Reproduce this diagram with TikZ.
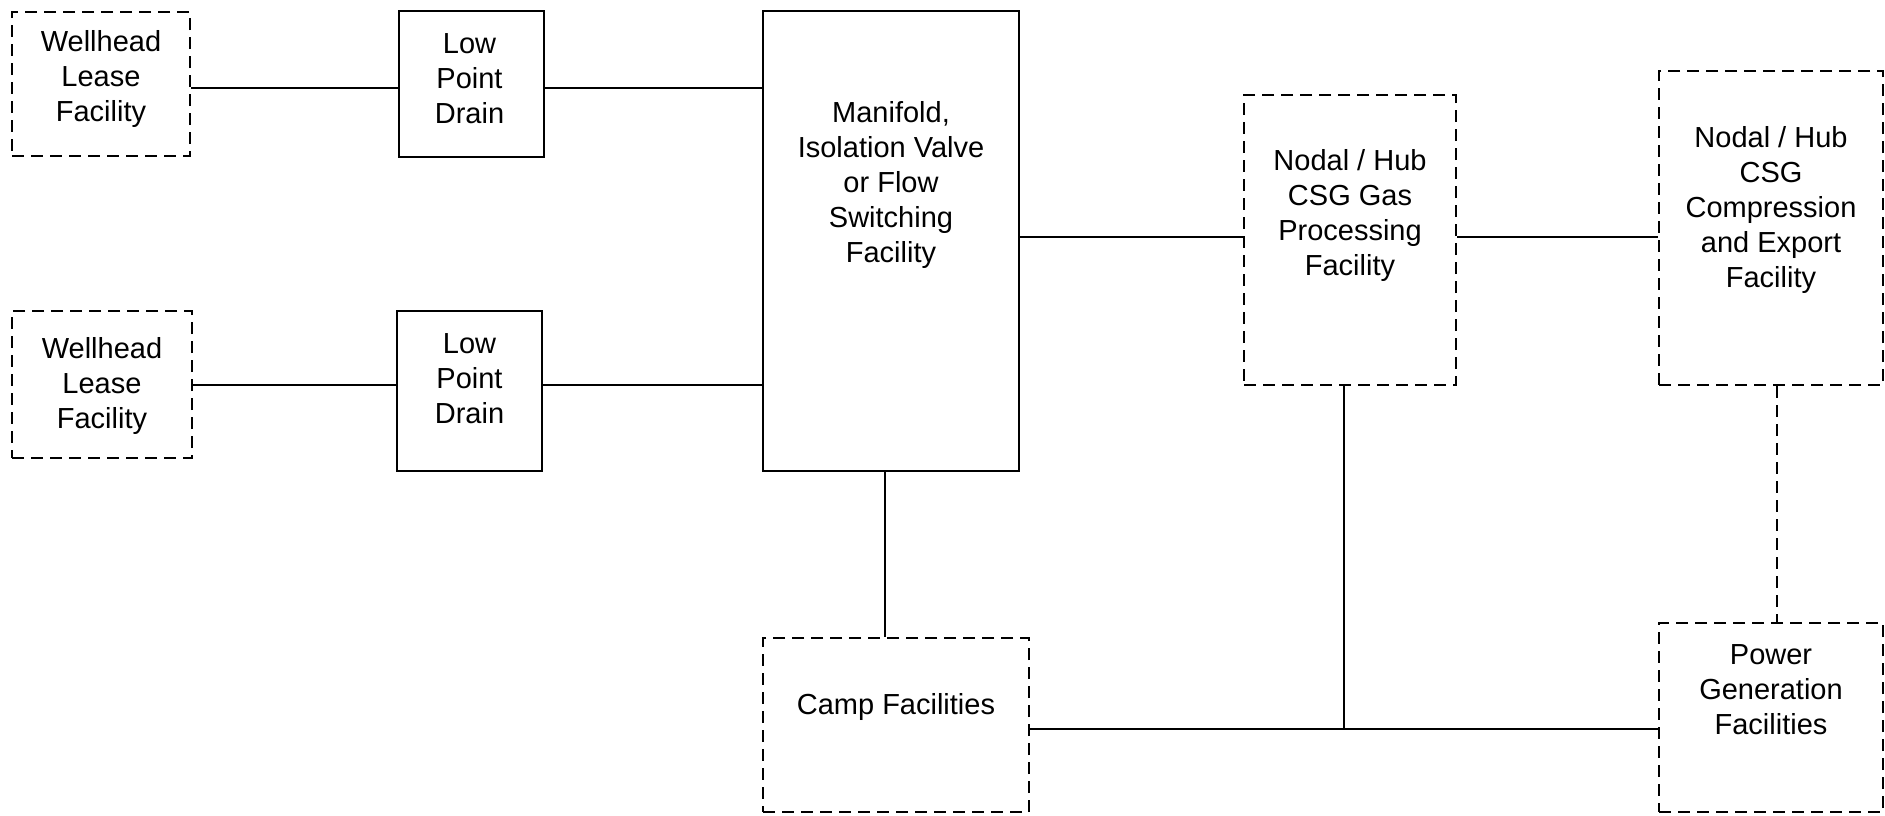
\documentclass[tikz,border=0pt]{standalone}
\usepackage{fontspec}
\setmainfont{Liberation Sans}
\usetikzlibrary{positioning}
\newlength{\px}
\setlength\px{0.5pt}

\begin{document}
\begin{tikzpicture}[
    x = \px, y = -\px, align = center,
    plant/.style = {
      rectangle, draw, line width = 2\px, inner sep = 0pt
    },
    offsite/.style = {
      plant, dash pattern = on 12\px off 7\px
    },
    caption/.style = {
      inner sep = 0pt, font = \fontsize{14.5}{17.5}\selectfont
    },
    pipe/.style = {
      line width = 2\px
    },
    link/.style = {
      pipe, dash pattern = on 12\px off 7\px
    },
    ]

    \useasboundingbox (0,0) rectangle (1885,815);

    % draw boxes of the wells and drains
    \node  [offsite, minimum width = 178\px, minimum height = 144\px]  (wh1)  at (101,84)  {};
    \node  [plant, minimum width = 145\px, minimum height = 146\px]  (lpd1)  [right = 207\px of wh1]  {};
    \node  [offsite, minimum width = 180\px, minimum height = 147\px]  (wh2)  at (102,384.5)  {};
    \node  [plant, minimum width = 145\px, minimum height = 160\px]  (lpd2)  at (469.5,391)  {};

    % draw the facility boxes
    \node  [plant, minimum width = 256\px, minimum height = 460\px]  (manifold)  at (891,241)  {};
    \node  [offsite, minimum width = 212\px, minimum height = 290\px]  (proc)  at (1350,240)  {};
    \node  [offsite, minimum width = 224\px, minimum height = 314\px]  (comp)  at (1771,228)  {};
    \node  [offsite, minimum width = 266\px, minimum height = 174\px]  (camp)  at (896,725)  {};
    \node  [offsite, minimum width = 224\px, minimum height = 189\px]  (power)  at (1771,717.5)  {};

    % draw texts
    \foreach \i in {1, 2}
    \node  [caption]  at ([yshift = 5.5\px]wh\i.center |- lpd\i.center)  {Wellhead\\Lease\\Facility};
    \node  [caption]  at (469.5,78.5)  {Low\\Point\\Drain};
    \node  [caption]  at (469.5,378.5)  {Low\\Point\\Drain};
    \node  [caption]  at (891,184.5)  {Manifold,\\Isolation Valve\\or Flow\\Switching\\Facility};
    \node  [caption]  at (1350,215.5)  {Nodal / Hub\\CSG Gas\\Processing\\Facility};
    \node  [caption]  at (1771,209.5)  {Nodal / Hub\\CSG\\Compression\\and Export\\Facility};
    \node  [caption]  at (896,706.5)  {Camp Facilities};
    \node  [caption]  at (1771,689.5)  {Power\\Generation\\Facilities};

    % rows and columns of the pipes
    \coordinate  (row1)  at (0,88);
    \coordinate  (row2)  at (0,385);
    \coordinate  (row3)  at (0,237);
    \coordinate  (bus)  at (1344,729);
    \coordinate  (col1)  at (885,0);
    \coordinate  (col2)  at (1777,0);

    % draw pipes
    \draw  [pipe]  (wh1.east |- row1)  --  (lpd1.west |- row1);
    \draw  [pipe]  (lpd1.east |- row1)  --  (manifold.west |- row1);
    \draw  [pipe]  (wh2.east |- row2)  --  (lpd2.west |- row2);
    \draw  [pipe]  (lpd2.east |- row2)  --  (manifold.west |- row2);
    \draw  [pipe]  (manifold.east |- row3)  --  (proc.west |- row3);
    \draw  [pipe]  (proc.east |- row3)  --  (comp.west |- row3);
    \draw  [pipe]  (manifold.south -| col1)  --  (camp.north -| col1);
    \draw  [pipe]  (camp.east |- bus)  --  (power.west |- bus);
    \draw  [pipe]  (proc.south -| bus)  --  (bus);
    \draw  [link]  (comp.south -| col2)  --  (power.north -| col2);

\end{tikzpicture}
\end{document}
